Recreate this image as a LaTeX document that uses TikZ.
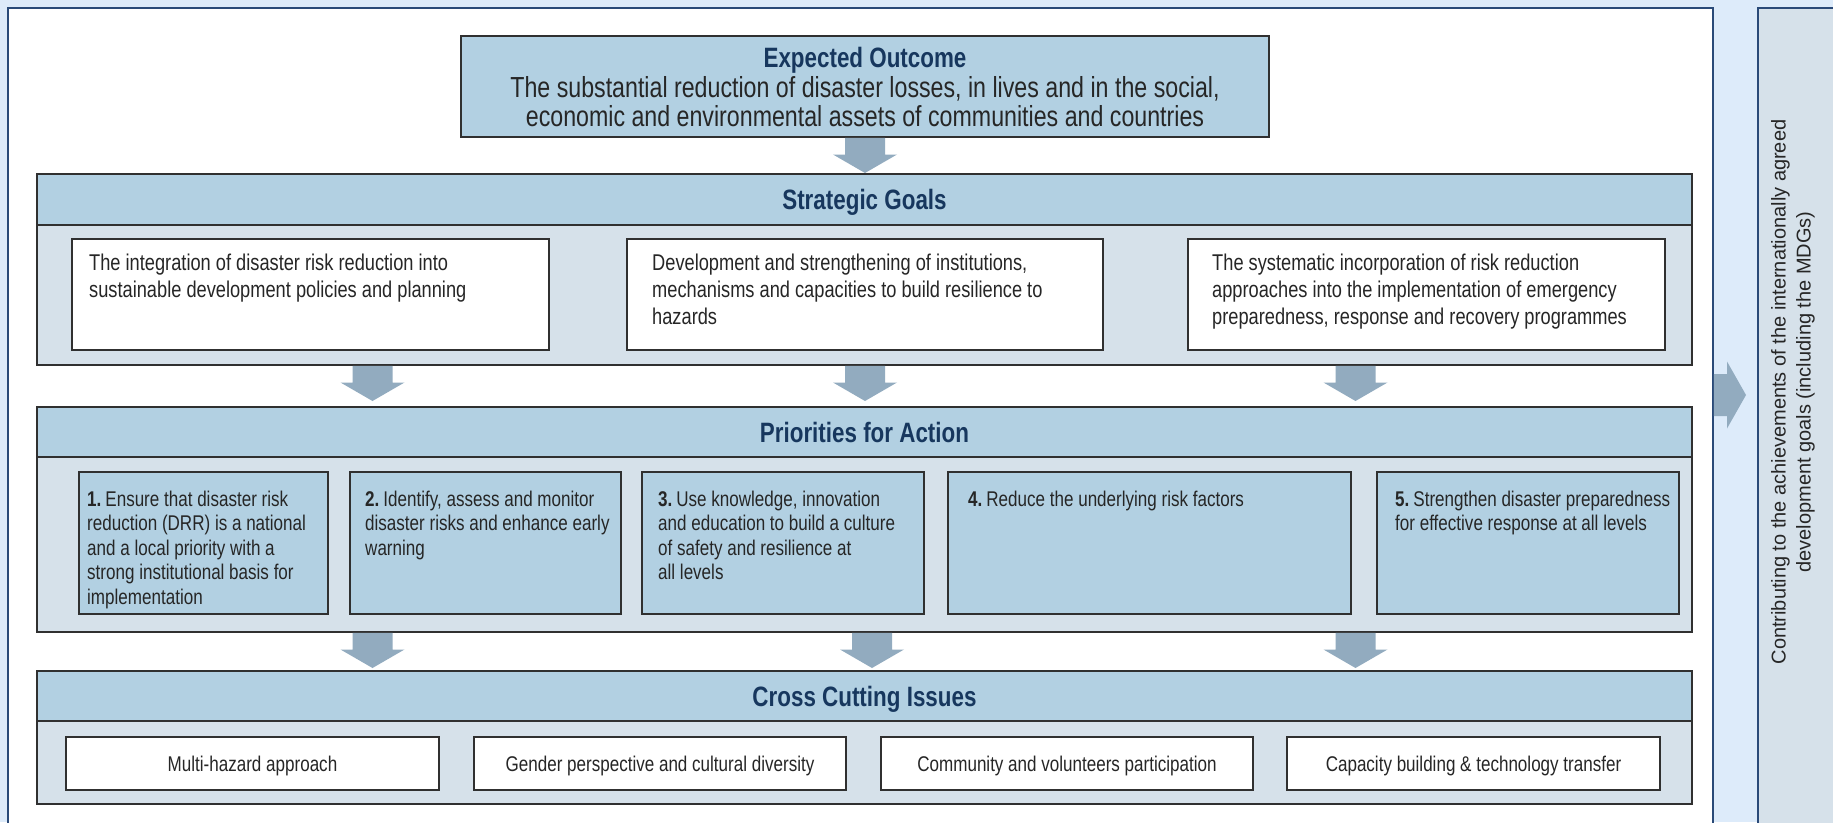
\documentclass[tikz,border=0pt]{standalone}
\usepackage{fontspec}
\setmainfont{Liberation Sans}[FakeStretch=0.8]
\newfontfamily\wideLS{Liberation Sans}
\usetikzlibrary{calc}

\definecolor{bgblue}{HTML}{DDEBFA}
\definecolor{navyc}{HTML}{2A4A78}
\definecolor{hdrc}{HTML}{B2D0E2}
\definecolor{bodyc}{HTML}{D6E1EA}
\definecolor{arrowc}{HTML}{92ABBF}
\definecolor{edgec}{HTML}{303030}
\definecolor{titlec}{HTML}{17375E}
\definecolor{textc}{HTML}{262626}

\newcommand\hdrfnt{\fontsize{28}{30}\selectfont\bfseries}
\newcommand\eofnt{\fontsize{29}{29}\selectfont}
\newcommand\goalfnt{\fontsize{22.8}{27}\selectfont}
\newcommand\prifnt{\fontsize{21.3}{24.5}\selectfont}
\newcommand\crossfnt{\fontsize{21.3}{24}\selectfont}
\newcommand\mdgfnt{\wideLS\fontsize{20}{25}\selectfont}
\newcommand\pnum[1]{\textbf{#1}\hspace{4pt}}

% box node from corner numbers (pixel units, y downward)
\newcommand\mkbox[6]{\node[#2, minimum width={(#5-#3)*1pt}, minimum height={(#6-#4)*1pt}] (#1) at ({(#3+#5)/2},{(#4+#6)/2}) {};}

\newcommand\downarr[1]{\fill[arrowc] let \p1=#1 in
  (\x1-20pt,\y1-0.9pt) -- (\x1+20pt,\y1-0.9pt) -- (\x1+20pt,\y1-17.5pt) -- (\x1+32pt,\y1-17.5pt)
  -- (\x1,\y1-36pt) -- (\x1-32pt,\y1-17.5pt) -- (\x1-20pt,\y1-17.5pt) -- cycle;}
\newcommand\rightarr[1]{\fill[arrowc] let \p1=#1 in
  (\x1+0.9pt,\y1+21pt) -- (\x1+14pt,\y1+21pt) -- (\x1+14pt,\y1+33.5pt) -- (\x1+33pt,\y1)
  -- (\x1+14pt,\y1-33.5pt) -- (\x1+14pt,\y1-21pt) -- (\x1+0.9pt,\y1-21pt) -- cycle;}

\begin{document}
\begin{tikzpicture}[x=1pt,y=-1pt,
  panel/.style={draw=navyc, line width=1.8pt, inner sep=0pt, outer sep=0pt},
  box/.style={draw=edgec, line width=1.7pt, inner sep=0pt, outer sep=0pt},
  hdrtxt/.style={font=\hdrfnt, text=titlec, inner sep=0pt, anchor=base},
  eotxt/.style={font=\eofnt, text=textc, inner sep=0pt, anchor=base},
  goaltxt/.style={font=\goalfnt, text=textc, inner sep=0pt, anchor=base west},
  pritxt/.style={font=\prifnt, text=textc, inner sep=0pt, anchor=base west},
  crosstxt/.style={font=\crossfnt, text=textc, inner sep=0pt, anchor=base},
  mdgtxt/.style={font=\mdgfnt, text=textc, inner sep=0pt, align=center, rotate=90}
]
\useasboundingbox (0,0) rectangle (1833,822);
\clip (0,0) rectangle (1833,822);
\fill[bgblue] (0,0) rectangle (1833,822);

% outer panels
\mkbox{main}{panel, fill=white}{8}{8}{1713}{850}
\mkbox{mdg}{panel, fill=bodyc}{1758}{8}{1870}{850}
\node[mdgtxt] (mdgt) at (1793,392) {Contributing to the achievements of the internationally agreed\\development goals (including the MDGs)};

% expected outcome
\mkbox{eo}{box, fill=hdrc}{461}{36}{1269}{137}
\node[hdrtxt] (eot) at (865,67) {Expected Outcome};
\node[eotxt] (eol1) at (865,97) {The substantial reduction of disaster losses, in lives and in the social,};
\node[eotxt] (eol2) at (865,126) {economic and environmental assets of communities and countries};

% strategic goals
\mkbox{sgb}{box, fill=bodyc}{37}{225}{1692}{365}
\mkbox{sgh}{box, fill=hdrc}{37}{174}{1692}{225}
\node[hdrtxt] (sgt) at (864.5,209) {Strategic Goals};
\mkbox{g1}{box, fill=white}{72}{239}{549}{350}
\mkbox{g2}{box, fill=white}{627}{239}{1103}{350}
\mkbox{g3}{box, fill=white}{1188}{239}{1665}{350}
\node[goaltxt] (g1t) at (89,270) {\vtop{\hbox{The integration of disaster risk reduction into}\hbox{sustainable development policies and planning}}};
\node[goaltxt] (g2t) at (652,270) {\vtop{\hbox{Development and strengthening of institutions,}\hbox{mechanisms and capacities to build resilience to}\hbox{hazards}}};
\node[goaltxt] (g3t) at (1212,270) {\vtop{\hbox{The systematic incorporation of risk reduction}\hbox{approaches into the implementation of emergency}\hbox{preparedness, response and recovery programmes}}};

% priorities for action
\mkbox{pab}{box, fill=bodyc}{37}{457}{1692}{632}
\mkbox{pah}{box, fill=hdrc}{37}{407}{1692}{457}
\node[hdrtxt] (pat) at (864.5,442) {Priorities for Action};
\mkbox{p1}{box, fill=hdrc}{79}{472}{328}{614}
\mkbox{p2}{box, fill=hdrc}{350}{472}{621}{614}
\mkbox{p3}{box, fill=hdrc}{642}{472}{924}{614}
\mkbox{p4}{box, fill=hdrc}{948}{472}{1351}{614}
\mkbox{p5}{box, fill=hdrc}{1377}{472}{1679}{614}
\node[pritxt] (p1t) at (87,506) {\vtop{\hbox{\pnum{1.}Ensure that disaster risk}\hbox{reduction (DRR) is a national}\hbox{and a local priority with a}\hbox{strong institutional basis for}\hbox{implementation}}};
\node[pritxt] (p2t) at (365,506) {\vtop{\hbox{\pnum{2.}Identify, assess and monitor}\hbox{disaster risks and enhance early}\hbox{warning}}};
\node[pritxt] (p3t) at (658,506) {\vtop{\hbox{\pnum{3.}Use knowledge, innovation}\hbox{and education to build a culture}\hbox{of safety and resilience at}\hbox{all levels}}};
\node[pritxt] (p4t) at (968,506) {\vtop{\hbox{\pnum{4.}Reduce the underlying risk factors}}};
\node[pritxt] (p5t) at (1395,506) {\vtop{\hbox{\pnum{5.}Strengthen disaster preparedness}\hbox{for effective response at all levels}}};

% cross cutting issues
\mkbox{ccb}{box, fill=bodyc}{37}{721}{1692}{804}
\mkbox{cch}{box, fill=hdrc}{37}{671}{1692}{721}
\node[hdrtxt] (cct) at (864.5,706) {Cross Cutting Issues};
\mkbox{c1}{box, fill=white}{66}{737}{439}{790}
\mkbox{c2}{box, fill=white}{474}{737}{846}{790}
\mkbox{c3}{box, fill=white}{881}{737}{1253}{790}
\mkbox{c4}{box, fill=white}{1287}{737}{1660}{790}
\node[crosstxt] (c1t) at (252.5,771) {Multi-hazard approach};
\node[crosstxt] (c2t) at (660,771) {Gender perspective and cultural diversity};
\node[crosstxt] (c3t) at (1067,771) {Community and volunteers participation};
\node[crosstxt] (c4t) at (1473.5,771) {Capacity building \& technology transfer};

% arrow columns
\coordinate (colA) at (372.5,0);
\coordinate (colB) at (865,0);
\coordinate (colC) at (1355.5,0);
\coordinate (colBb) at (872,0);
\coordinate (rowR) at (0,395);

% block arrows
\downarr{(eo.south)}
\downarr{(sgb.south -| colA)}
\downarr{(sgb.south -| colB)}
\downarr{(sgb.south -| colC)}
\downarr{(pab.south -| colA)}
\downarr{(pab.south -| colBb)}
\downarr{(pab.south -| colC)}
\rightarr{(main.east |- rowR)}
\end{tikzpicture}
\end{document}
